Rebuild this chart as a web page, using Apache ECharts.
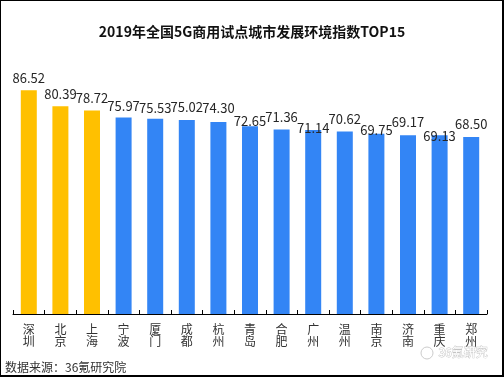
<!DOCTYPE html>
<html>
<head>
<meta charset="utf-8">
<script src="https://cdn.jsdelivr.net/npm/echarts@6/dist/echarts.min.js"></script>
<style>
  html, body { margin: 0; padding: 0; background: #fff; }
  #frame { position: absolute; left: 0; top: 0; width: 501px; height: 374px; border: 1px solid #000; border-right-width: 2px; border-bottom-width: 2px; }
  #chart { position: absolute; left: 0; top: 0; width: 504px; height: 377px; }
</style>
</head>
<body>
<div id="chart"></div>
<div id="frame"></div>
<script>
const cities = ['深圳', '北京', '上海', '宁波', '厦门', '成都', '杭州', '青岛', '合肥', '广州', '温州', '南京', '济南', '重庆', '郑州']
const scores = [86.52, 80.39, 78.72, 75.97, 75.53, 75.02, 74.30, 72.65, 71.36, 71.14, 70.62, 69.75, 69.17, 69.13, 68.50]
const highlightCount = 3

// labels in the source were nudged by hand, keep that look
const labelNudge = [0, 0, 0, 1, 2, -1, -1, 7, 0, 10, 0, 9, -1, 13, 0]

const font = '"Noto Sans CJK SC", "Noto Sans", sans-serif'
const chart = echarts.init(document.getElementById('chart'))

chart.setOption({
  backgroundColor: '#fff',
  animation: false,
  title: {
    text: '2019年全国5G商用试点城市发展环境指数TOP15',
    left: 'center',
    top: 20,
    textStyle: { fontFamily: font, fontSize: 14, fontWeight: 'bold', color: '#111' },
  },
  grid: { left: 13, right: 17, top: 55.5, bottom: 63 },
  xAxis: {
    type: 'category',
    data: cities,
    axisLine: { lineStyle: { color: '#000', width: 1 } },
    axisTick: { show: true, inside: true, length: 4, lineStyle: { color: '#000' } },
    axisLabel: {
      fontFamily: font,
      fontSize: 12,
      lineHeight: 12,
      color: '#333',
      margin: 9,
      interval: 0,
      formatter: (v) => v.split('').join('\n'),
    },
  },
  yAxis: { type: 'value', min: 0, max: 100, show: false },
  series: [
    {
      type: 'bar',
      barWidth: 16,
      data: scores.map((v, i) => ({
        value: v,
        itemStyle: { color: i < highlightCount ? '#FFC000' : '#3385F5' },
        label: { offset: [0, labelNudge[i]] },
      })),
      label: {
        show: true,
        position: 'top',
        distance: 6,
        fontFamily: font,
        fontSize: 13,
        color: '#262626',
        formatter: (p) => p.value.toFixed(2),
      },
    },
  ],
  graphic: [
    {
      type: 'text',
      left: 5,
      top: 361,
      style: { text: '数据来源：36氪研究院', font: '12px ' + font, fill: '#333' },
    },
    {
      type: 'circle',
      shape: { cx: 427, cy: 353, r: 6 },
      style: { fill: '#fff', stroke: '#ccc', lineWidth: 1 },
    },
    {
      type: 'text',
      left: 438,
      top: 346,
      style: { text: '36氪研究', font: '12px ' + font, fill: '#fff', stroke: '#c4c4c4', lineWidth: 0.8 },
    },
  ],
})
</script>
</body>
</html>
